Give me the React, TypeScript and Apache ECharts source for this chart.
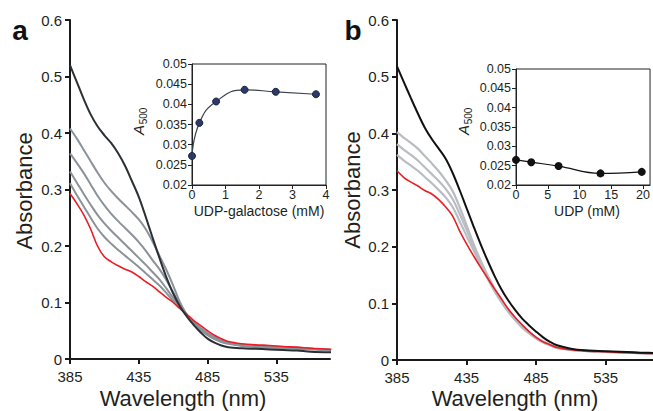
import React, { useEffect, useRef } from "react";
import * as echarts from "echarts";

const wavelengths = [385, 390, 395, 400, 405, 410, 415, 420, 425, 430, 435, 440, 445, 450, 455, 460, 465, 470, 475, 480, 485, 490, 495, 500, 510, 520, 530, 540, 550, 560, 575];

// Panel a spectra
const aBlack = [0.52, 0.49, 0.46, 0.433, 0.412, 0.396, 0.382, 0.364, 0.342, 0.315, 0.287, 0.252, 0.215, 0.179, 0.145, 0.116, 0.093, 0.075, 0.06, 0.047, 0.036, 0.029, 0.024, 0.021, 0.019, 0.018, 0.017, 0.016, 0.015, 0.013, 0.012];
const aGray1 = [0.408, 0.39, 0.37, 0.35, 0.33, 0.312, 0.297, 0.284, 0.272, 0.26, 0.247, 0.23, 0.208, 0.183, 0.158, 0.13, 0.1, 0.078, 0.062, 0.051, 0.042, 0.035, 0.03, 0.027, 0.023, 0.021, 0.02, 0.019, 0.018, 0.017, 0.015];
const aGray2 = [0.364, 0.347, 0.329, 0.309, 0.289, 0.272, 0.257, 0.244, 0.232, 0.22, 0.207, 0.192, 0.175, 0.159, 0.14, 0.118, 0.097, 0.078, 0.063, 0.052, 0.043, 0.036, 0.031, 0.028, 0.024, 0.022, 0.021, 0.02, 0.019, 0.018, 0.016];
const aGray3 = [0.332, 0.312, 0.292, 0.273, 0.255, 0.24, 0.227, 0.215, 0.203, 0.191, 0.179, 0.167, 0.154, 0.141, 0.125, 0.108, 0.093, 0.077, 0.064, 0.053, 0.045, 0.038, 0.032, 0.029, 0.025, 0.022, 0.021, 0.02, 0.019, 0.018, 0.016];
const aGray4 = [0.311, 0.29, 0.27, 0.25, 0.231, 0.216, 0.204, 0.193, 0.183, 0.173, 0.163, 0.152, 0.141, 0.13, 0.117, 0.103, 0.09, 0.077, 0.065, 0.055, 0.046, 0.039, 0.033, 0.029, 0.025, 0.023, 0.022, 0.021, 0.02, 0.018, 0.016];
const aRed = [0.293, 0.275, 0.255, 0.23, 0.2, 0.181, 0.172, 0.165, 0.159, 0.154, 0.146, 0.137, 0.129, 0.119, 0.109, 0.1, 0.089, 0.079, 0.068, 0.059, 0.05, 0.042, 0.036, 0.031, 0.027, 0.025, 0.024, 0.022, 0.021, 0.019, 0.017];

// Panel b spectra
const bBlack = [0.518, 0.49, 0.462, 0.435, 0.41, 0.39, 0.373, 0.355, 0.33, 0.3, 0.268, 0.236, 0.205, 0.176, 0.149, 0.125, 0.105, 0.088, 0.073, 0.061, 0.05, 0.04, 0.032, 0.026, 0.02, 0.017, 0.016, 0.015, 0.014, 0.013, 0.012];
const bGray1 = [0.402, 0.392, 0.383, 0.373, 0.36, 0.347, 0.333, 0.317, 0.298, 0.27, 0.238, 0.205, 0.176, 0.15, 0.127, 0.106, 0.088, 0.073, 0.06, 0.049, 0.04, 0.033, 0.027, 0.022, 0.018, 0.016, 0.015, 0.014, 0.013, 0.012, 0.011];
const bGray2 = [0.381, 0.371, 0.362, 0.352, 0.34, 0.328, 0.316, 0.302, 0.284, 0.258, 0.23, 0.2, 0.172, 0.147, 0.124, 0.104, 0.086, 0.071, 0.058, 0.048, 0.039, 0.032, 0.026, 0.022, 0.018, 0.016, 0.015, 0.014, 0.013, 0.012, 0.011];
const bGray3 = [0.362, 0.352, 0.343, 0.334, 0.323, 0.312, 0.3, 0.287, 0.27, 0.245, 0.219, 0.194, 0.168, 0.144, 0.122, 0.102, 0.085, 0.07, 0.057, 0.047, 0.038, 0.031, 0.026, 0.021, 0.018, 0.016, 0.015, 0.014, 0.013, 0.012, 0.011];
const bRed = [0.334, 0.322, 0.314, 0.307, 0.299, 0.293, 0.283, 0.27, 0.254, 0.228, 0.205, 0.184, 0.164, 0.145, 0.126, 0.108, 0.09, 0.075, 0.062, 0.05, 0.04, 0.032, 0.027, 0.022, 0.018, 0.016, 0.015, 0.014, 0.013, 0.012, 0.011];

// Inset a: UDP-galactose titration
const udpGalConc = [0, 0.22, 0.72, 1.57, 2.5, 3.7];
const udpGalA500 = [0.0272, 0.0354, 0.0407, 0.0436, 0.0431, 0.0425];

// Inset b: UDP titration
const udpConc = [0, 2.4, 6.7, 13.3, 19.8];
const udpA500 = [0.0265, 0.0259, 0.0249, 0.023, 0.0234];

const mainXTicks = [385, 435, 485, 535];
const insetAXTicks = [0, 1, 2, 3, 4];
const insetBXTicks = [0, 5, 10, 15, 20];

const FONT = "'Liberation Sans', Arial, Helvetica, sans-serif";
const TXT = "#231f20";

const pair = (xs: number[], ys: number[]) => xs.map((x, i) => [x, ys[i]]);

export default function App() {
  const ref = useRef<HTMLDivElement>(null);
  useEffect(() => {
    if (!ref.current) return;
    const chart = echarts.init(ref.current, undefined, { renderer: "svg" });

    const mainX = (gridIndex: number, max: number) => ({
      type: "value",
      gridIndex,
      min: 385,
      max,
      axisLine: { show: true, lineStyle: { color: "#1a1a1a", width: 2 } },
      axisTick: { show: true, length: 5, lineStyle: { color: "#1a1a1a", width: 2 }, customValues: mainXTicks },
      axisLabel: { fontSize: 15, color: TXT, fontFamily: FONT, margin: 10, customValues: mainXTicks },
      splitLine: { show: false },
    });
    const mainY = (gridIndex: number) => ({
      type: "value",
      gridIndex,
      min: 0,
      max: 0.6,
      interval: 0.1,
      axisLine: { show: true, lineStyle: { color: "#1a1a1a", width: 2 } },
      axisTick: { show: true, length: 5, lineStyle: { color: "#1a1a1a", width: 2 } },
      axisLabel: { fontSize: 15, color: TXT, fontFamily: FONT, margin: 8, formatter: (v: number) => String(+v.toFixed(2)) },
      splitLine: { show: false },
    });
    const insetX = (gridIndex: number, max: number, ticks: number[]) => ({
      type: "value",
      gridIndex,
      min: 0,
      max,
      axisLine: { show: true, lineStyle: { color: "#222", width: 1 } },
      axisTick: { show: true, length: 4, lineStyle: { color: "#222", width: 1 }, customValues: ticks },
      axisLabel: { fontSize: 12.5, color: TXT, fontFamily: FONT, margin: 3, customValues: ticks },
      splitLine: { show: false },
    });
    const insetY = (gridIndex: number) => ({
      type: "value",
      gridIndex,
      min: 0.02,
      max: 0.05,
      interval: 0.005,
      axisLine: { show: true, lineStyle: { color: "#222", width: 1 } },
      axisTick: { show: true, length: 4, lineStyle: { color: "#222", width: 1 } },
      axisLabel: { fontSize: 12.5, color: TXT, fontFamily: FONT, margin: 5, formatter: (v: number) => String(+v.toFixed(3)) },
      splitLine: { show: false },
    });

    const spec = (xi: number, ys: number[], color: string, width: number, z = 2) => ({
      type: "line",
      xAxisIndex: xi,
      yAxisIndex: xi,
      data: pair(wavelengths, ys),
      smooth: 0.35,
      showSymbol: false,
      symbol: "none",
      lineStyle: { color, width },
      z,
    });

    const a500 = (x: number, y: number) => ({
      type: "group",
      x,
      y,
      rotation: Math.PI / 2,
      children: [
        { type: "text", x: -8, y: 0, style: { text: "A", fontSize: 15, fontStyle: "italic", fontFamily: FONT, fill: TXT, align: "center", verticalAlign: "middle" } },
        { type: "text", x: 6, y: 5, style: { text: "500", fontSize: 10, fontFamily: FONT, fill: TXT, align: "center", verticalAlign: "middle" } },
      ],
    });

    chart.setOption({
      animation: false,
      grid: [
        { left: 70, top: 20, width: 260, height: 339 },
        { left: 397, top: 20, width: 256, height: 340 },
        { left: 192, top: 64, width: 134, height: 121, show: true, borderColor: "#222", borderWidth: 1, backgroundColor: "transparent" },
        { left: 516, top: 69, width: 140, height: 116, show: true, borderColor: "#222", borderWidth: 1, backgroundColor: "transparent" },
      ],
      xAxis: [
        mainX(0, 574),
        mainX(1, 569),
        insetX(2, 4, insetAXTicks),
        insetX(3, 21.1, insetBXTicks),
      ],
      yAxis: [mainY(0), mainY(1), insetY(2), insetY(3)],
      series: [
        spec(0, aGray4, "#8b929a", 2),
        spec(0, aGray3, "#8b929a", 2),
        spec(0, aGray2, "#8b929a", 2),
        spec(0, aGray1, "#8b929a", 2),
        spec(0, aRed, "#ec1c24", 1.6, 3),
        spec(0, aBlack, "#2b3035", 2, 4),
        spec(1, bGray3, "#b9bdc3", 2.2),
        spec(1, bGray2, "#b9bdc3", 2.2),
        spec(1, bGray1, "#b9bdc3", 2.2),
        spec(1, bRed, "#ec1c24", 1.6, 3),
        spec(1, bBlack, "#111111", 2, 4),
        {
          type: "line",
          xAxisIndex: 2,
          yAxisIndex: 2,
          data: pair(udpGalConc, udpGalA500),
          smooth: 0.5,
          symbol: "circle",
          symbolSize: 7,
          itemStyle: { color: "#2c3a6b", borderColor: "#1b2340", borderWidth: 1 },
          lineStyle: { color: "#3a444e", width: 1.2 },
        },
        {
          type: "line",
          xAxisIndex: 3,
          yAxisIndex: 3,
          data: pair(udpConc, udpA500),
          smooth: 0.4,
          symbol: "circle",
          symbolSize: 8,
          itemStyle: { color: "#111111" },
          lineStyle: { color: "#111111", width: 1.2 },
        },
      ],
      graphic: [
        { type: "text", x: 20, y: 30, style: { text: "a", fontSize: 28, fontWeight: "bold", fontFamily: FONT, fill: "#111", align: "center", verticalAlign: "middle" } },
        { type: "text", x: 353, y: 30, style: { text: "b", fontSize: 28, fontWeight: "bold", fontFamily: FONT, fill: "#111", align: "center", verticalAlign: "middle" } },
        { type: "text", x: 24, y: 191, rotation: Math.PI / 2, style: { text: "Absorbance", fontSize: 22, fontFamily: FONT, fill: TXT, align: "center", verticalAlign: "middle" } },
        { type: "text", x: 352, y: 190, rotation: Math.PI / 2, style: { text: "Absorbance", fontSize: 22, fontFamily: FONT, fill: TXT, align: "center", verticalAlign: "middle" } },
        { type: "text", x: 183, y: 398, style: { text: "Wavelength (nm)", fontSize: 22, fontFamily: FONT, fill: TXT, align: "center", verticalAlign: "middle" } },
        { type: "text", x: 515, y: 398, style: { text: "Wavelength (nm)", fontSize: 22, fontFamily: FONT, fill: TXT, align: "center", verticalAlign: "middle" } },
        { type: "text", x: 259, y: 211, style: { text: "UDP-galactose (mM)", fontSize: 14, fontFamily: FONT, fill: TXT, align: "center", verticalAlign: "middle" } },
        { type: "text", x: 587, y: 211, style: { text: "UDP (mM)", fontSize: 14, fontFamily: FONT, fill: TXT, align: "center", verticalAlign: "middle" } },
        a500(138, 122),
        a500(463, 122),
      ],
    });
    return () => chart.dispose();
  }, []);
  return <div ref={ref} style={{ position: "fixed", left: 0, top: 0, width: 653, height: 411, background: "#fff" }} />;
}
